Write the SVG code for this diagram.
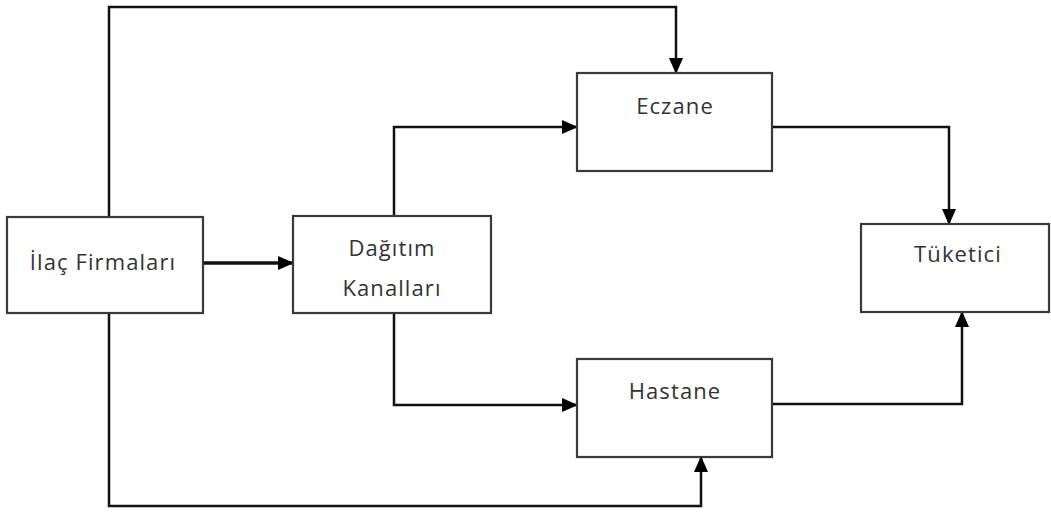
<svg xmlns="http://www.w3.org/2000/svg" width="1051" height="513" viewBox="0 0 1051 513">
<style>
.box{fill:#fff;stroke:#3a3a3a;stroke-width:2.2}
.lbl{font-family:"Open Sans","Liberation Sans",sans-serif;font-size:22px;letter-spacing:1.1px;fill:#333;text-anchor:middle;dominant-baseline:central}
.ln{fill:none;stroke:#111;stroke-width:2.5}
.arr{marker-end:url(#ah)}
</style>
<defs>
<marker id="ah" markerUnits="userSpaceOnUse" markerWidth="16" markerHeight="14" refX="15" refY="7" orient="auto">
<path d="M0,0 L16,7 L0,14 Z" fill="#000"/>
</marker>
</defs>
<g id="connectors">
<polyline class="ln arr" points="109,217 109,7 676,7 676,73"/>
<polyline class="ln arr" points="109,313 109,506 701,506 701,457"/>
<line class="ln arr" x1="203" y1="263" x2="293" y2="263" style="stroke-width:3.5"/>
<polyline class="ln arr" points="394,216 394,127 577,127"/>
<polyline class="ln arr" points="394,313 394,405 577,405"/>
<polyline class="ln arr" points="772,127 949,127 949,224"/>
<polyline class="ln arr" points="772,404 962,404 962,312"/>
</g>
<g id="ilac">
<rect class="box" x="7" y="217" width="196" height="96"/>
<text class="lbl" x="103" y="261">İlaç Firmaları</text>
</g>
<g id="dagitim">
<rect class="box" x="293" y="216" width="198" height="97"/>
<text class="lbl" x="392" y="247">Dağıtım</text>
<text class="lbl" x="392" y="287">Kanalları</text>
</g>
<g id="eczane">
<rect class="box" x="577" y="73" width="195" height="98"/>
<text class="lbl" x="675" y="105">Eczane</text>
</g>
<g id="hastane">
<rect class="box" x="577" y="359" width="195" height="98"/>
<text class="lbl" x="675" y="390">Hastane</text>
</g>
<g id="tuketici">
<rect class="box" x="861" y="224" width="188" height="88"/>
<text class="lbl" x="958" y="253">Tüketici</text>
</g>
</svg>
